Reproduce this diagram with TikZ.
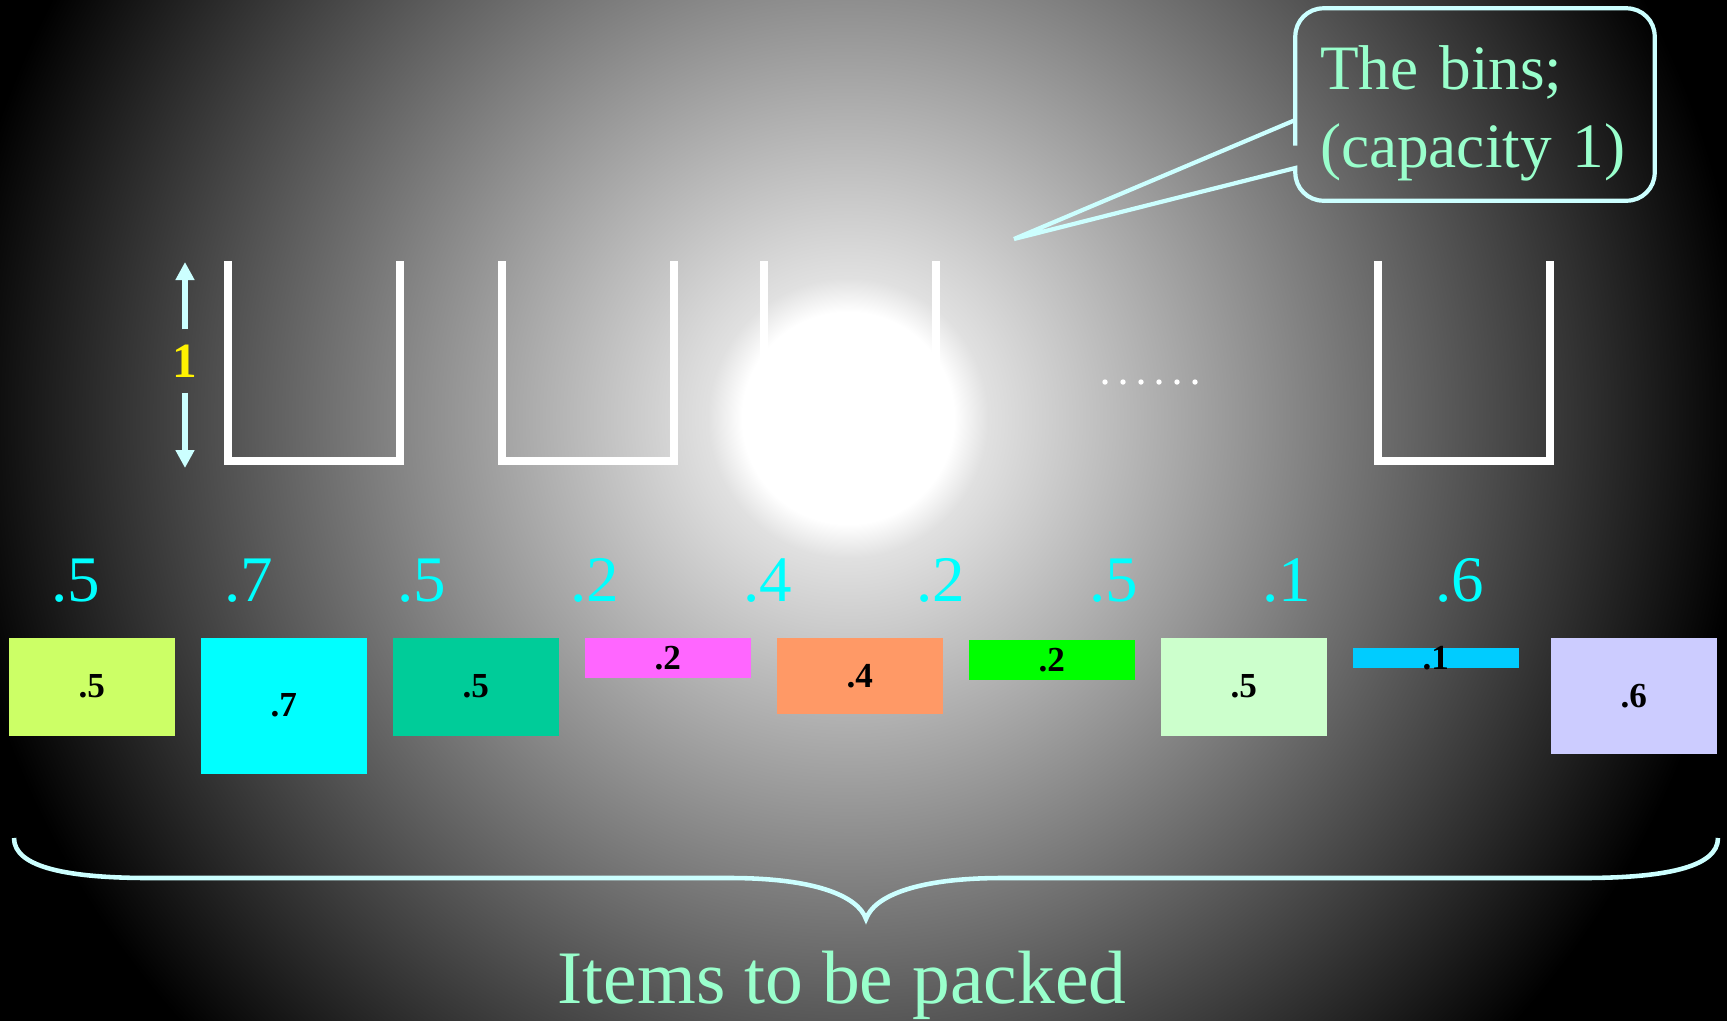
\documentclass[tikz,border=0pt]{standalone}
\usepackage{fontspec}
\setmainfont{Liberation Serif}
\usetikzlibrary{arrows.meta,positioning}
\definecolor{pale}{RGB}{204,255,255}
\definecolor{mint}{RGB}{153,255,204}
\definecolor{sizecyan}{RGB}{0,255,255}
\definecolor{chartreuse}{RGB}{204,255,102}
\definecolor{aqua}{RGB}{0,255,255}
\definecolor{jade}{RGB}{0,204,153}
\definecolor{orchid}{RGB}{255,102,255}
\definecolor{salmon}{RGB}{255,153,102}
\definecolor{neon}{RGB}{0,255,0}
\definecolor{honeydew}{RGB}{204,255,204}
\definecolor{sky}{RGB}{0,204,255}
\definecolor{lavender}{RGB}{204,204,255}
\pgfdeclareradialshading{glow}{\pgfpoint{0bp}{0bp}}{color(0bp)=(white); color(2.65bp)=(white); color(3.5bp)=(white!88!black); color(22.5bp)=(black); color(25bp)=(black); color(50bp)=(black)}
\tikzset{
  >={Triangle[length=1.8mm,width=1.8mm]},
  bin/.style={draw=white,line width=2.3pt},
  dim/.style={->,draw=pale,line width=1.7pt},
  size label/.style={text=sizecyan,font=\fontsize{18.5}{22}\selectfont,anchor=base},
  item/.style={fill=#1,minimum width=16.6mm,inner sep=0pt,anchor=north west},
  item text/.style={font=\fontsize{10}{12}\selectfont\bfseries,text=black,inner sep=0pt},
  callout/.style={draw=pale,line width=1.2pt},
  note/.style={text=mint,font=\fontsize{18}{22}\selectfont,align=left},
}

\begin{document}
\begin{tikzpicture}[x=0.1mm,y=-0.1mm]
  \useasboundingbox (0,0) rectangle (1727,1020);
  % backdrop
  \fill[black] (-20,-20) rectangle (1747,1040);
  \begin{scope}
    \clip (-20,-20) rectangle (1747,1040);
    \shade[shading=glow] (848,418) circle (1000);
  \end{scope}

  % the bins
  \foreach \x in {228,502,764,1378}
    \draw[bin] (\x,261) -- (\x,461) -- (\x+172,461) -- (\x+172,261);
  \foreach \x in {1105,1123,...,1195}
    \fill[white] (\x,382) circle (2.7);

  % capacity
  \node[text=yellow,font=\fontsize{14}{16}\selectfont\bfseries,minimum height=6.2mm,inner sep=0pt] (unit) at (185,361) {1};
  \coordinate (unit top) at (185,262);
  \coordinate (unit bottom) at (185,468);
  \draw[dim] (unit) -- (unit top);
  \draw[dim] (unit) -- (unit bottom);

  % callout
  \node[minimum width=35.8mm,minimum height=19.1mm,inner sep=0pt] (bins) at (1475,104.5) {};
  \node[note,text width=32mm,inner sep=0pt] (bins text) at ([xshift=0.5mm,yshift=-0.9mm]bins.center) {The bins;\\(capacity 1)};
  \coordinate (tail) at (1014,239);
  \draw[callout] ([yshift=-1.55mm]bins.west) -- (tail) -- ([yshift=-6.35mm]bins.west) -- ([yshift=-6.6mm]bins.west)
    [rounded corners=2.8mm] -- (bins.south west) -- (bins.south east) -- (bins.north east) -- (bins.north west)
    -- ([yshift=-1.3mm]bins.west) [sharp corners] -- cycle;

  % items
  \foreach \x/\y/\h/\c/\v [count=\i from 0] in {
    8/637/9.8/chartreuse/5, 200/637/13.6/aqua/7, 392/637/9.8/jade/5,
    584/637/4/orchid/2, 776/637/7.6/salmon/4, 968/639/4/neon/2,
    1160/637/9.8/honeydew/5, 1352/647/2/sky/1, 1550/637/11.6/lavender/6}
  {
    \node[size label] (size\i) at (76+173*\i,601) {.\v};
    \node[item=\c,minimum height=\h mm] (item\i) at (\x,\y) {};
    \node[item text] (value\i) at (item\i.center) {.\v};
  }

  % brace
  \draw[pale,line width=1.3pt] (14,838) .. controls (14,868) and (70,878) .. (150,878) -- (730,878)
    .. controls (815,878) and (858,896) .. (866,919) .. controls (874,896) and (917,878) .. (1002,878)
    -- (1582,878) .. controls (1662,878) and (1718,868) .. (1718,838);
  \node[text=mint,font=\fontsize{21.5}{24}\selectfont,anchor=base] (items) at (842,1003) {Items to be packed};
\end{tikzpicture}
\end{document}
